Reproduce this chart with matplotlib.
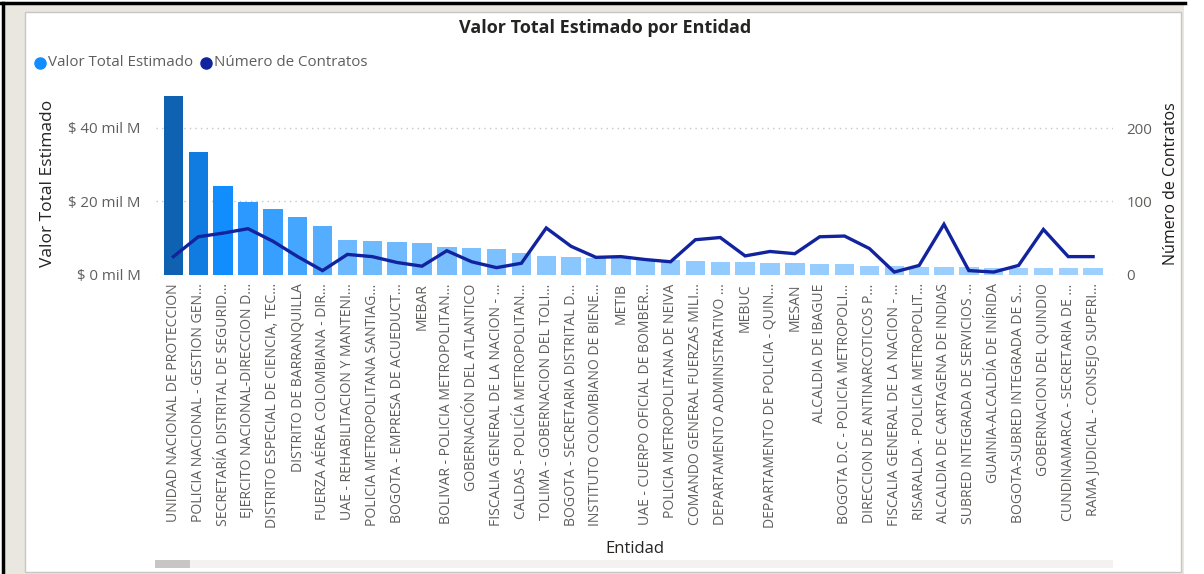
import matplotlib
matplotlib.use("Agg")
import matplotlib.pyplot as plt
from matplotlib.colors import LinearSegmentedColormap, Normalize
from matplotlib.patches import Rectangle
from matplotlib.lines import Line2D
import numpy as np

plt.rcParams['font.family'] = ['Open Sans', 'DejaVu Sans']

entidades = [
    "UNIDAD NACIONAL DE PROTECCION",
    "POLICIA NACIONAL - GESTION GEN...",
    "SECRETARÍA DISTRITAL DE SEGURID...",
    "EJERCITO NACIONAL-DIRECCION D...",
    "DISTRITO ESPECIAL DE CIENCIA, TEC...",
    "DISTRITO DE BARRANQUILLA",
    "FUERZA AÉREA COLOMBIANA - DIR...",
    "UAE - REHABILITACION Y MANTENI...",
    "POLICIA METROPOLITANA SANTIAG...",
    "BOGOTA - EMPRESA DE ACUEDUCT...",
    "MEBAR",
    "BOLIVAR - POLICIA METROPOLITAN...",
    "GOBERNACIÓN DEL ATLANTICO",
    "FISCALIA GENERAL DE LA NACION - ...",
    "CALDAS - POLICÍA METROPOLITAN...",
    "TOLIMA - GOBERNACION DEL TOLI...",
    "BOGOTA - SECRETARIA DISTRITAL D...",
    "INSTITUTO COLOMBIANO DE BIENE...",
    "METIB",
    "UAE - CUERPO OFICIAL DE BOMBER...",
    "POLICIA METROPOLITANA DE NEIVA",
    "COMANDO GENERAL FUERZAS MILI...",
    "DEPARTAMENTO ADMINISTRATIVO ...",
    "MEBUC",
    "DEPARTAMENTO DE POLICIA - QUIN...",
    "MESAN",
    "ALCALDIA DE IBAGUE",
    "BOGOTA D.C - POLICIA METROPOLI...",
    "DIRECCION DE ANTINARCOTICOS P...",
    "FISCALIA GENERAL DE LA NACION - ...",
    "RISARALDA - POLICIA METROPOLIT...",
    "ALCALDIA DE CARTAGENA DE INDIAS",
    "SUBRED INTEGRADA DE SERVICIOS ...",
    "GUAINIA-ALCALDÍA DE INÍRIDA",
    "BOGOTA-SUBRED INTEGRADA DE S...",
    "GOBERNACION DEL QUINDIO",
    "CUNDINAMARCA - SECRETARIA DE ...",
    "RAMA JUDICIAL - CONSEJO SUPERI...",
]

# valor total estimado, in "mil M" (miles de millones)
valor_total = [48.8, 33.4, 24.1, 19.9, 17.9, 15.7, 13.3, 9.5, 9.2, 9.1,
               8.6, 7.7, 7.3, 7.1, 6.0, 5.2, 4.9, 4.7, 4.5, 4.35,
               4.0, 3.8, 3.5, 3.45, 3.3, 3.2, 3.0, 2.9, 2.5, 2.45,
               2.3, 2.2, 2.1, 2.0, 1.9, 1.9, 1.8, 1.8]

num_contratos = [25, 52, 57, 63, 46, 25, 6, 28, 25, 17,
                 12, 33, 18, 10, 16, 64, 39, 24, 25, 21,
                 18, 48, 51, 26, 32, 29, 52, 53, 36, 4,
                 13, 69, 6, 4, 13, 62, 25, 25]

left_ticks = [0, 20, 40]
left_labels = ["$ 0 mil M", "$ 20 mil M", "$ 40 mil M"]
right_ticks = [0, 100, 200]

W, H = 1204, 574
fig = plt.figure(figsize=(W / 100, H / 100), dpi=100)


def fx(x):
    return x / W


def fy(y):
    return 1 - y / H


# outer frame
fig.add_artist(Rectangle((fx(4), fy(574)), fx(1184 - 4), 1 - 4 / H - 0,
                         transform=fig.transFigure, facecolor="#e9e7df", edgecolor="none", zorder=-3))
fig.add_artist(Line2D([fx(0), fx(1185)], [fy(3), fy(3)], transform=fig.transFigure,
                      color="black", lw=2.5, zorder=-2))
fig.add_artist(Line2D([fx(3), fx(3)], [fy(3), fy(574)], transform=fig.transFigure,
                      color="black", lw=2.5, zorder=-2))
fig.add_artist(Rectangle((fx(25), fy(572)), fx(1181 - 25), (572 - 12) / H,
                         transform=fig.transFigure, facecolor="white", edgecolor="#c8c6c4",
                         lw=1, zorder=-1))

# axes
ax_l, ax_r, ax_t, ax_b = 156, 1113, 92, 275
ax = fig.add_axes([fx(ax_l), fy(ax_b), fx(ax_r - ax_l), (ax_b - ax_t) / H])
ytop = (ax_b - ax_t) / 3.675

cmap = LinearSegmentedColormap.from_list(
    "pbi", [(0.0, "#9dd0ff"), (0.47, "#118dff"), (1.0, "#0f62b2")])
norm = Normalize(vmin=min(valor_total), vmax=max(valor_total))
x = np.arange(len(entidades))
ax.bar(x, valor_total, width=0.78, color=cmap(norm(np.array(valor_total))), zorder=2)

ax.set_xlim(-0.7, 37.8)
ax.set_ylim(0, ytop)
ax.set_yticks(left_ticks)
ax.set_yticklabels(left_labels)
ax.set_xticks(x)
ax.set_xticklabels(entidades, rotation=90, va="top", ha="center", fontsize=10.1, color="#605e5c")
ax.tick_params(axis="x", length=0, pad=6)
ax.tick_params(axis="y", length=0, pad=11, labelsize=10.8, labelcolor="#605e5c")
ax.grid(axis="y", color="#c8c6c4", linestyle=(0, (1, 3)), lw=1, zorder=0)
for s in ax.spines.values():
    s.set_visible(False)
ax.set_ylabel("Valor Total Estimado", fontsize=12.5, color="#252423", labelpad=9)
ax.set_xlabel("Entidad", fontsize=12, color="#252423", labelpad=9)

ax2 = ax.twinx()
ax2.plot(x, num_contratos, color="#12239e", lw=2.4, zorder=3, solid_joinstyle="miter")
ax2.set_ylim(0, ytop * 5)
ax2.set_yticks(right_ticks)
ax2.tick_params(axis="y", length=0, pad=9.5, labelsize=10.8, labelcolor="#605e5c")
for s in ax2.spines.values():
    s.set_visible(False)
ax2.set_ylabel("Número de Contratos", fontsize=11.5, color="#1b1a19", labelpad=8)

# title
fig.text(fx(605), fy(28), "Valor Total Estimado por Entidad", ha="center", va="center",
         fontsize=13, fontweight="bold", color="#252423")

# legend
fig.add_artist(Line2D([fx(40)], [fy(63)], marker="o", markersize=8, color="#118dff",
                      transform=fig.transFigure, lw=0))
fig.text(fx(48), fy(63), "Valor Total Estimado", ha="left", va="center", fontsize=10.9, color="#605e5c")
fig.add_artist(Line2D([fx(206)], [fy(63)], marker="o", markersize=8, color="#12239e",
                      transform=fig.transFigure, lw=0))
fig.text(fx(214), fy(63), "Número de Contratos", ha="left", va="center", fontsize=10.9, color="#605e5c")

# scrollbar
fig.add_artist(Rectangle((fx(155), fy(568)), fx(1113 - 155), 8 / H, transform=fig.transFigure,
                         facecolor="#f3f2f1", edgecolor="none"))
fig.add_artist(Rectangle((fx(155), fy(568)), fx(35), 8 / H, transform=fig.transFigure,
                         facecolor="#c8c6c4", edgecolor="none"))

fig.savefig("out.png", dpi=100)
